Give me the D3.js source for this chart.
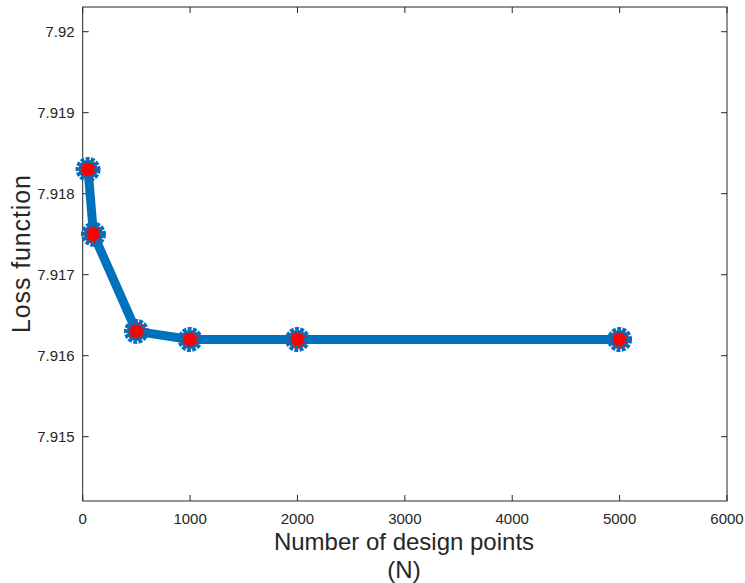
<!DOCTYPE html>
<html><head><meta charset="utf-8">
<script src="https://cdn.jsdelivr.net/npm/d3@7"></script>
<style>body{margin:0;background:#fff}text{font-family:"Liberation Sans",Arial,Helvetica,sans-serif}</style>
</head><body>
<svg id="c" width="745" height="583"></svg>
<script>
const nPoints = [50, 100, 500, 1000, 2000, 5000];
const lossValues = [7.9183, 7.9175, 7.9163, 7.9162, 7.9162, 7.9162];
const xTicks = [0, 1000, 2000, 3000, 4000, 5000, 6000];
const yTicks = [7.915, 7.916, 7.917, 7.918, 7.919, 7.920];
const xLabel = "Number of design points";
const xLabel2 = "(N)";
const yLabel = "Loss function";

const svg = d3.select("#c");
const L = 82.7, R = 727, T = 7, B = 501;
const x = d3.scaleLinear().domain([0, 6000]).range([L, R]);
const y = d3.scaleLinear().domain([7.914206, 7.920305]).range([B, T]);
const axisCol = "#262626";
const tl = 6;

svg.append("rect").attr("x", L).attr("y", T).attr("width", R - L).attr("height", B - T)
  .attr("fill", "none").attr("stroke", axisCol).attr("stroke-width", 1);

const gx = svg.append("g");
xTicks.forEach(t => {
  gx.append("line").attr("x1", x(t)).attr("x2", x(t)).attr("y1", B).attr("y2", B - tl).attr("stroke", axisCol);
  gx.append("line").attr("x1", x(t)).attr("x2", x(t)).attr("y1", T).attr("y2", T + tl).attr("stroke", axisCol);
  gx.append("text").attr("x", x(t)).attr("y", B + 23).attr("text-anchor", "middle")
    .attr("font-size", 15).attr("fill", axisCol).text(d3.format("d")(t));
});
const gy = svg.append("g");
yTicks.forEach(t => {
  gy.append("line").attr("x1", L).attr("x2", L + tl).attr("y1", y(t)).attr("y2", y(t)).attr("stroke", axisCol);
  gy.append("line").attr("x1", R).attr("x2", R - tl).attr("y1", y(t)).attr("y2", y(t)).attr("stroke", axisCol);
  gy.append("text").attr("x", L - 8).attr("y", y(t)).attr("dy", "0.36em").attr("text-anchor", "end")
    .attr("font-size", 15).attr("fill", axisCol).text(d3.format("~g")(+t.toFixed(3)));
});

const line = d3.line().x((d, i) => x(nPoints[i])).y(d => y(d));
svg.append("path").datum(lossValues).attr("d", line).attr("fill", "none")
  .attr("stroke", "#0072BD").attr("stroke-width", 9).attr("stroke-linejoin", "round");

svg.selectAll("circle.m").data(lossValues).join("circle").attr("class", "m")
  .attr("cx", (d, i) => x(nPoints[i])).attr("cy", d => y(d)).attr("r", 9.5)
  .attr("fill", "#FF0000").attr("stroke", "#0072BD").attr("stroke-width", 6)
  .attr("stroke-dasharray", "3.5,1.2");

svg.append("text").attr("x", 404).attr("y", 550).attr("text-anchor", "middle")
  .attr("font-size", 24).attr("fill", axisCol).text(xLabel);
svg.append("text").attr("x", 404).attr("y", 578).attr("text-anchor", "middle")
  .attr("font-size", 24).attr("fill", axisCol).text(xLabel2);
svg.append("text").attr("transform", `translate(30,254) rotate(-90)`).attr("text-anchor", "middle")
  .attr("font-size", 25).attr("textLength", 158).attr("lengthAdjust", "spacing")
  .attr("fill", axisCol).text(yLabel);
</script>
</body></html>
